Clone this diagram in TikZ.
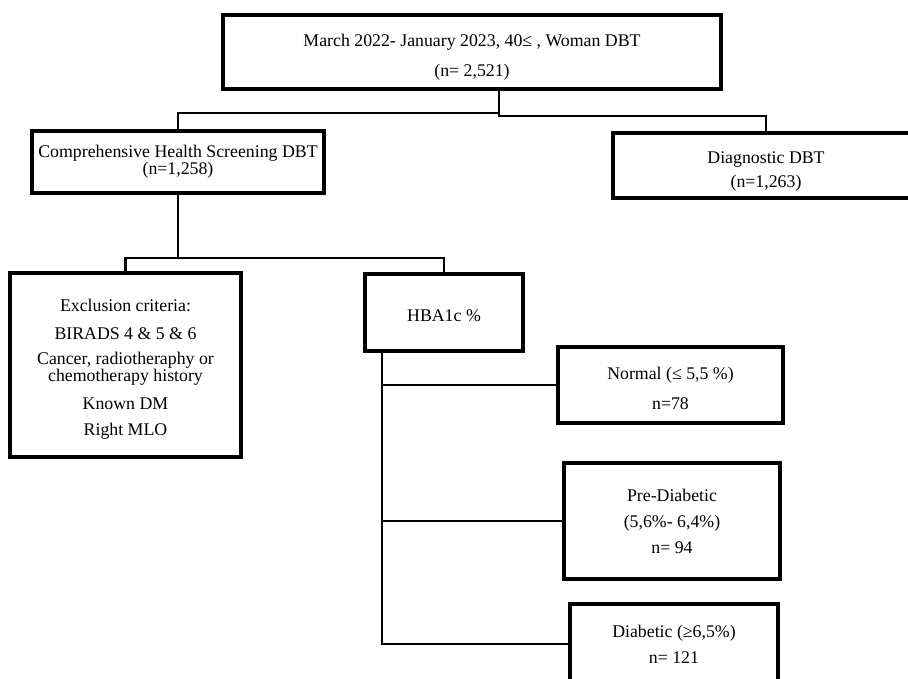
\documentclass[tikz,border=0pt]{standalone}
\usepackage{fontspec}
\setmainfont{Liberation Serif}
\usetikzlibrary{calc,positioning}
\newcommand\textdrop[1]{\rule{0pt}{#1}}
\tikzset {box/.style={draw,line width=3.2pt,align=center,inner sep=0pt,
    font=\fontsize{17.8}{30}\selectfont},
  link/.style={line width=2.2pt}}

\begin{document}
\begin{tikzpicture}[x=1pt,y=-1pt]
\useasboundingbox (0,0) rectangle (908,678);
\node[box,minimum width=498,minimum height=74] (top) at (472,52)
  {\textdrop{22pt}March 2022- January 2023, 40≤ , Woman DBT\\(n= 2,521)};
\node[box,minimum width=292,minimum height=62,
  font=\fontsize{17.8}{17}\selectfont] (chs) at (178,162)
  {Comprehensive Health Screening DBT\\(n=1,258)};
\node[box,minimum width=306,minimum height=65] (diag) at (766,165.5)
  {\textdrop{24pt}Diagnostic DBT\\[-6pt](n=1,263)};
\node[box,minimum width=231,minimum height=184,
  font=\fontsize{17.8}{17}\selectfont] (excl) at (125.5,365)
  {\textdrop{20pt}Exclusion criteria:\\[11pt]BIRADS 4 \& 5 \& 6\\[8pt]Cancer, radiotheraphy or\\
   chemotherapy history\\[11pt]Known DM\\[9pt]Right MLO};
\node[box,minimum width=158,minimum height=77] (hba) at (444,312.5)
  {\textdrop{18pt}HBA1c \%};
\node[box,minimum width=225,minimum height=76] (norm) at (670.5,385)
  {\textdrop{19pt}Normal (≤ 5,5 \%)\\n=78};
\node[box,minimum width=216,minimum height=116,
  font=\fontsize{17.8}{26}\selectfont] (pre) at (672,521)
  {Pre-Diabetic\\(5,6\%- 6,4\%)\\n= 94};
\node[box,minimum width=208,minimum height=80,
  font=\fontsize{17.8}{26}\selectfont] (diab) at (674,644)
  {Diabetic (≥6,5\%)\\n= 121};
% connectors
\coordinate (fork) at (499,0);
\coordinate (trunk) at (382,0);
\draw[link] (top.south -| fork) -- ++(0,22) -| (chs.north);
\draw[link] (top.south -| fork) -- ++(0,25) -| (diag.north);
\draw[link] (chs.south) -- ++(0,63) -| (excl.north);
\draw[link] (chs.south) ++(0,63) -| (hba.north);
\draw[link] (hba.south -| trunk) |- (diab.west);
\draw[link] (trunk |- norm.west) -- (norm.west);
\draw[link] (trunk |- pre.west) -- (pre.west);
\end{tikzpicture}
\end{document}
